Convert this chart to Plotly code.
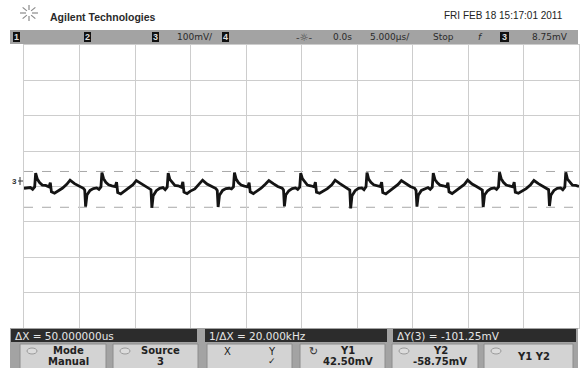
import math
import plotly.graph_objects as go

# ---------------- data ----------------
# time in microseconds (time reference at screen centre), channel 3 in mV
t_us = [
    -25.0, -24.72, -24.42, -24.22, -24.04,
    -23.95, -23.80, -23.60, -23.35, -23.05, -22.75, -22.63, -22.53, -22.25, -21.95, -21.55, -21.15,
    -20.85, -20.45, -20.05, -19.65, -19.53, -19.45, -19.33, -19.05, -18.75, -18.45, -18.25, -18.07,
    -17.98, -17.83, -17.63, -17.38, -17.08, -16.78, -16.66, -16.56, -16.28, -15.98, -15.58, -15.18,
    -14.88, -14.48, -14.08, -13.68, -13.56, -13.48, -13.36, -13.08, -12.78, -12.48, -12.28, -12.10,
    -12.01, -11.86, -11.66, -11.41, -11.11, -10.81, -10.69, -10.59, -10.31, -10.01, -9.61, -9.21,
    -8.91, -8.51, -8.11, -7.71, -7.59, -7.51, -7.39, -7.11, -6.81, -6.51, -6.31, -6.13,
    -6.04, -5.89, -5.69, -5.44, -5.14, -4.84, -4.72, -4.62, -4.34, -4.04, -3.64, -3.24,
    -2.94, -2.54, -2.14, -1.74, -1.62, -1.54, -1.42, -1.14, -0.84, -0.54, -0.34, -0.16,
    -0.07, 0.08, 0.28, 0.53, 0.83, 1.13, 1.25, 1.35, 1.63, 1.93, 2.33, 2.73,
    3.03, 3.43, 3.83, 4.23, 4.35, 4.43, 4.55, 4.83, 5.13, 5.43, 5.63, 5.81,
    5.90, 6.05, 6.25, 6.50, 6.80, 7.10, 7.22, 7.32, 7.60, 7.90, 8.30, 8.70,
    9.00, 9.40, 9.80, 10.20, 10.32, 10.40, 10.52, 10.80, 11.10, 11.40, 11.60, 11.78,
    11.87, 12.02, 12.22, 12.47, 12.77, 13.07, 13.19, 13.29, 13.57, 13.87, 14.27, 14.67,
    14.97, 15.37, 15.77, 16.17, 16.29, 16.37, 16.49, 16.77, 17.07, 17.37, 17.57, 17.75,
    17.84, 17.99, 18.19, 18.44, 18.74, 19.04, 19.16, 19.26, 19.54, 19.84, 20.24, 20.64,
    20.94, 21.34, 21.74, 22.14, 22.26, 22.34, 22.46, 22.74, 23.04, 23.34, 23.54, 23.72,
    23.81, 23.96, 24.16, 24.41, 24.71, 25.0,
]
v_mv = [
    -5, -4, -3, -8, -1,
    38, 21, 11, 4, 3, -1, 11, -15, -19, -13, -5, 6, 18, 8, 1, -5, -10, -57, -24, -11, -6, -4, -8, -1,
    39, 22, 12, 5, 2, 0, 12, -17, -21, -14, -6, 5, 17, 9, 0, -6, -9, -60, -26, -12, -5, -3, -9, -2,
    38, 20, 12, 3, 2, -2, 13, -16, -20, -13, -7, 6, 18, 7, 1, -6, -11, -58, -25, -11, -6, -5, -7, -1,
    39, 21, 11, 4, 1, -1, 11, -15, -20, -14, -5, 7, 17, 8, 0, -5, -10, -56, -24, -12, -6, -4, -8, -2,
    38, 22, 13, 4, 2, -1, 12, -16, -19, -13, -6, 5, 18, 9, 1, -6, -10, -62, -26, -12, -5, -4, -9, -1,
    39, 21, 12, 5, 3, 0, 12, -17, -21, -14, -6, 6, 17, 8, 0, -5, -11, -57, -25, -11, -6, -3, -8, -2,
    38, 20, 11, 4, 2, -1, 11, -15, -20, -13, -5, 6, 18, 7, 0, -6, -10, -58, -24, -12, -6, -4, -8, -1,
    40, 22, 12, 4, 2, -1, 12, -16, -19, -14, -6, 5, 17, 8, 1, -5, -9, -55, -25, -11, -5, -4, -9, -2,
    40, 21, 12, 4, 3, 0,
]
cursor_y1_mv = 42.50
cursor_y2_mv = -58.75

header_labels = ["1", "2", "3", "4"]
softkeys = [("Mode", "Manual"), ("Source", "3"), ("X", "Y"), ("Y1", "42.50mV"), ("Y2", "-58.75mV"), ("Y1 Y2", "")]

# ---------------- layout helpers ----------------
W, H = 580, 368
L, R, T, B = 24, 1, 45, 40
PW = W - L - R
PH = H - T - B


def px(x):
    return (x - L) / PW


def py(y):
    return (H - B - y) / PH


FONT = "Liberation Sans"
WIDE = "DejaVu Sans"
shapes = []
ann = []


def rect(x0, y0, x1, y1, fill, line=None, lw=0, layer="above"):
    shapes.append(dict(type="rect", xref="paper", yref="paper", x0=px(x0), x1=px(x1),
                       y0=py(y1), y1=py(y0), fillcolor=fill, layer=layer,
                       line=dict(color=line or fill, width=lw)))


def seg(x0, y0, x1, y1, color, w=1):
    shapes.append(dict(type="line", xref="paper", yref="paper", x0=px(x0), x1=px(x1),
                       y0=py(y0), y1=py(y1), line=dict(color=color, width=w)))


def text(x, y, s, size=10, color="#222", anchor="left", bold=False, family=FONT):
    if bold:
        s = "<b>" + s + "</b>"
    ann.append(dict(xref="paper", yref="paper", x=px(x), y=py(y), text=s, showarrow=False,
                    xanchor=anchor, yanchor="middle", font=dict(size=size, color=color, family=family)))


fig = go.Figure()
fig.add_trace(go.Scatter(x=t_us, y=v_mv, mode="lines", line=dict(color="#141414", width=2.8),
                         hoverinfo="skip", showlegend=False))

# cursors
for cy in (cursor_y1_mv, cursor_y2_mv):
    shapes.append(dict(type="line", xref="paper", yref="y", x0=0, x1=1, y0=cy, y1=cy,
                       line=dict(color="#a8a8a8", width=1, dash="dash"), layer="below"))

# --- top: logo + brand + date
cx, cy0 = 29, 13
for k in range(8):
    a = k * math.pi / 4
    seg(cx + 3 * math.cos(a), cy0 + 3 * math.sin(a), cx + 9 * math.cos(a), cy0 + 8 * math.sin(a), "#8a8a8a", 1.2)
text(48, 17, "Agilent Technologies", size=10.5, color="#2a2a2a", bold=True)
text(565, 16, "FRI FEB 18 15:17:01 2011", size=10, color="#222", anchor="right")

# --- header bar
rect(10, 30, 578, 44, "#a3a3a3")
for lab, x0 in zip(header_labels, (13, 84, 152, 222)):
    rect(x0, 32, x0 + 7, 42, "#111")
    text(x0 + 3.5, 37, lab, size=9, color="#ddd", anchor="center", bold=True)
text(175, 37, "100mV/", size=9, color="#2a2a2a", family=WIDE)
text(304, 37, "-☼-", size=10, color="#444", anchor="center", family="DejaVu Sans")
text(342, 37, "0.0s", size=9, color="#2a2a2a", anchor="center", family=WIDE)
text(390, 37, "5.000µs/", size=9, color="#2a2a2a", anchor="center", family=WIDE)
text(443, 37, "Stop", size=9, color="#2a2a2a", anchor="center", family=WIDE)
text(480, 37, "<i>f</i>", size=9, color="#2a2a2a", anchor="center", family=WIDE)
rect(500, 32, 509, 42, "#111")
text(504.5, 37, "3", size=9, color="#ddd", anchor="center", bold=True)
text(550, 37, "8.75mV", size=9, color="#2a2a2a", anchor="center", family=WIDE)

# ground marker for channel 3
text(14, 181, "3", size=8, color="#333", anchor="center", bold=True)
seg(18, 181, 23, 181, "#333", 1)
seg(20, 177, 20, 185, "#333", 1)

# --- bottom: measurement bar + softkeys
rect(10, 328, 578, 368, "#a3a3a3")
rect(11, 329, 197, 342, "#2c2c2c")
rect(205, 329, 387, 342, "#2c2c2c")
rect(393, 329, 576, 342, "#2c2c2c")
text(13, 335.5, "ΔX = 50.000000us", size=10.5, color="#e6e6e6", family=WIDE)
text(207, 335.5, "1/ΔX = 20.000kHz", size=10.5, color="#e6e6e6", family=WIDE)
text(395, 335.5, "ΔY(3) = -101.25mV", size=10.5, color="#e6e6e6", family=WIDE)

btn_x = [(20, 106), (113, 198), (207, 292), (300, 385), (392, 478), (484, 573)]
for (x0, x1), (l1, l2) in zip(btn_x, softkeys):
    rect(x0, 344, x1, 370, "#d3d3d3", line="#8c8c8c", lw=1)
for i, ((x0, x1), (l1, l2)) in enumerate(zip(btn_x, softkeys)):
    if i in (0, 1, 4, 5):
        shapes.append(dict(type="circle", xref="paper", yref="paper", x0=px(x0 + 7), x1=px(x0 + 17),
                           y0=py(354), y1=py(348), line=dict(color="#9a9a9a", width=1), fillcolor="#dcdcdc"))
    c = (x0 + x1) / 2 + 5
    if i == 2:
        text(227, 351, l1, size=10, color="#222", anchor="center", family=WIDE)
        text(272, 351, l2, size=10, color="#222", anchor="center", family=WIDE)
        text(272, 361, "✓", size=9, color="#222", anchor="center", family="DejaVu Sans")
    elif i == 5:
        text(c, 356, l1, size=10, color="#222", anchor="center", family=WIDE, bold=True)
    else:
        text(c, 350.5, l1, size=10, color="#222", anchor="center", family=WIDE, bold=True)
        text(c, 361, l2, size=10, color="#222", anchor="center", family=WIDE, bold=True)
text(313, 351, "↻", size=11, color="#333", anchor="center", family="DejaVu Sans")

fig.update_layout(
    width=W, height=H, margin=dict(l=L, r=R, t=T, b=B, pad=0),
    paper_bgcolor="white", plot_bgcolor="white",
    shapes=shapes, annotations=ann, showlegend=False,
    xaxis=dict(range=[-25, 25], dtick=5, tick0=0, showticklabels=False, ticks="",
               showgrid=True, gridcolor="#cdcdcd", gridwidth=1, zeroline=False,
               showline=True, mirror=True, linecolor="#cdcdcd", linewidth=1, fixedrange=True),
    yaxis=dict(range=[-400, 400], dtick=100, tick0=0, showticklabels=False, ticks="",
               showgrid=True, gridcolor="#cdcdcd", gridwidth=1, zeroline=False,
               showline=True, mirror=True, linecolor="#cdcdcd", linewidth=1, fixedrange=True),
)
fig.write_html("out.html", config={"displayModeBar": False},
               post_script="document.body.style.margin='0';document.body.style.overflow='hidden';")
